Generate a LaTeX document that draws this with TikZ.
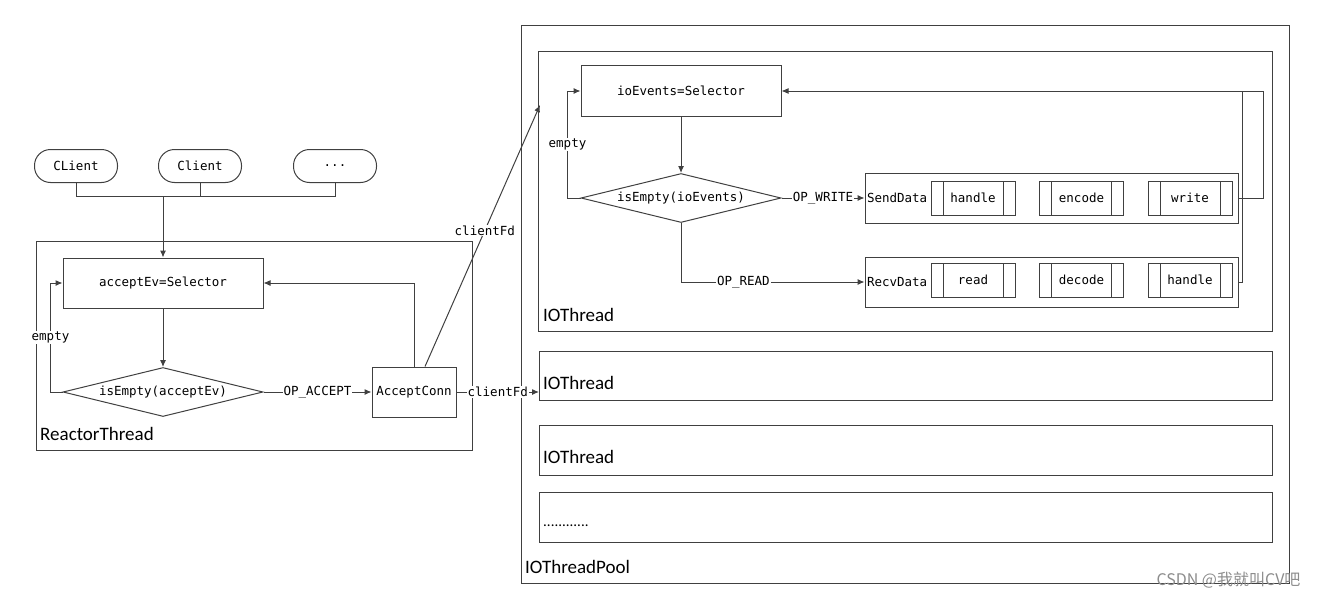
\documentclass[tikz,border=0pt]{standalone}
\usepackage{fontspec}
\setmainfont{Carlito}
\newfontfamily\codefont{DejaVu Sans Mono}
\newfontfamily\cjkfont{Noto Sans CJK SC}
\usetikzlibrary{shapes.geometric,arrows.meta}

\begin{document}
\begin{tikzpicture}[x=1pt,y=-1pt,
  line/.style={draw=black!75,line width=1pt},
  flow/.style={line,-{Latex[length=7pt,width=6pt]}},
  code/.style={font=\codefont\fontsize{12.5}{14}\selectfont},
  tag/.style={code,fill=white,inner sep=1pt},
  proc/.style={line,code,rectangle,inner sep=0pt},
  pill/.style={proc,rounded corners=16pt,minimum width=83pt,minimum height=33pt},
  cond/.style={proc,diamond,aspect=4,minimum width=200pt,minimum height=49pt},
  frame/.style={line,rectangle,inner sep=0pt,anchor=north west},
  title/.style={anchor=west,inner sep=0pt,font=\fontsize{19}{21}\selectfont},
  sub/.style={proc,minimum width=84pt,minimum height=34pt,
    path picture={\draw[black!75,line width=1pt]
      ([xshift=12pt]path picture bounding box.north west)--([xshift=12pt]path picture bounding box.south west)
      ([xshift=-12pt]path picture bounding box.north east)--([xshift=-12pt]path picture bounding box.south east);}},
  row/.style={proc,minimum width=373pt,minimum height=50pt,text width=369pt,inner xsep=2pt,align=left}]
\useasboundingbox (0,0) rectangle (1319,602);

\node[pill] (cl1) at (76,166) {CLient};
\node[pill] (cl2) at (200,166) {Client};
\node[pill] (cl3) at (335,166) {...};

\node[frame,minimum width=436pt,minimum height=209pt] (reactor) at (36,241) {};
\node[title] (reactorlbl) at (40,434) {ReactorThread};
\node[proc,minimum width=200pt,minimum height=50pt] (acc) at (163,283) {acceptEv=Selector};
\node[cond] (accq) at (163,392) {isEmpty(acceptEv)};
\node[proc,minimum width=84pt,minimum height=50pt] (conn) at (414,392) {AcceptConn};

\node[frame,minimum width=768pt,minimum height=558pt] (pool) at (521,25) {};
\node[title] (poollbl) at (525,567) {IOThreadPool};
\node[frame,minimum width=734pt,minimum height=280pt] (io1) at (538,51) {};
\node[title] (io1lbl) at (543,315) {IOThread};
\node[frame,minimum width=733pt,minimum height=49pt] (io2) at (539,351) {};
\node[title] (io2lbl) at (543,383) {IOThread};
\node[frame,minimum width=733pt,minimum height=50pt] (io3) at (539,425) {};
\node[title] (io3lbl) at (543,457) {IOThread};
\node[frame,minimum width=733pt,minimum height=50pt] (io4) at (539,492) {};
\node[title,font=\fontsize{15}{17}\selectfont] (io4lbl) at (543,526) {............};

\node[proc,minimum width=200pt,minimum height=50pt] (ios) at (681,91) {ioEvents=Selector};
\node[cond] (ioq) at (681,198) {isEmpty(ioEvents)};
\node[row] (send) at (1051.5,198) {SendData};
\node[row] (recv) at (1051.5,282) {RecvData};
\node[sub] (shandle) at (973,198) {handle};
\node[sub] (sencode) at (1081.5,198) {encode};
\node[sub] (swrite) at (1190,198) {write};
\node[sub] (rread) at (973,280) {read};
\node[sub] (rdecode) at (1081.5,280) {decode};
\node[sub] (rhandle) at (1190,280) {handle};

\draw[line] (cl1.south) -- ++(0,13) -| (cl3.south);
\draw[line] (cl2.south) -- ++(0,13);
\coordinate (join) at (163,196);
\draw[flow] (join) -- (acc.north);
\draw[flow] (acc) -- (accq);
\draw[flow] (accq.west) -- ++(-12,0) |- node[tag,pos=0.25] {empty} (acc.west);
\draw[flow] (accq.east) -- node[tag] {OP\_ACCEPT} (conn.west);
\draw[flow] (conn.north) |- (acc.east);
\coordinate (io1in) at (540,105);
\draw[flow] ([xshift=11pt]conn.north) -- node[tag,pos=0.52] {clientFd} (io1in);
\draw[flow] (conn.east) -- node[tag] {clientFd} (conn.east -| io2.west);

\draw[flow] (ios) -- (ioq);
\draw[flow] (ioq.west) -- ++(-13,0) |- node[tag,pos=0.25] {empty} (ios.west);
\draw[flow] (ioq.east) -- node[tag] {OP\_WRITE} (send.west);
\draw[flow] (ioq.south) |- node[tag,pos=0.67] {OP\_READ} (recv.west);
\draw[flow] (send.east) -- ++(25,0) |- (ios.east);
\draw[line] (recv.east) -- ++(4,0) coordinate (rb) -- (rb |- ios.east);

\node[anchor=east,text=black!45,font=\cjkfont\fontsize{16}{18}\selectfont] (mark) at (1304,580) {CSDN @我就叫CV吧};
\end{tikzpicture}
\end{document}
